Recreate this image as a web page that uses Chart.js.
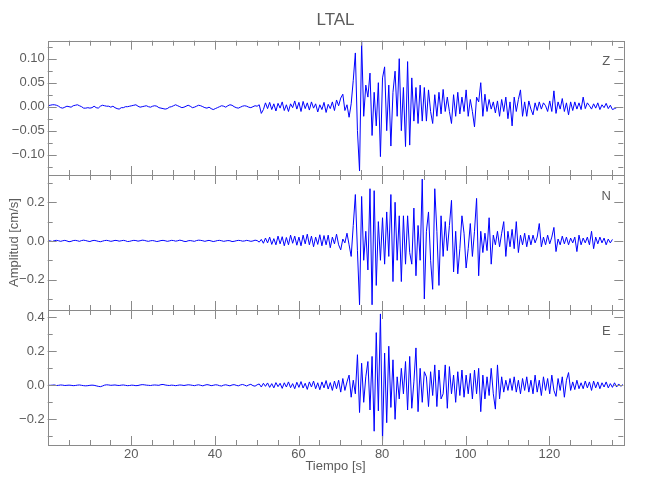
<!DOCTYPE html>
<html>
<head>
<meta charset="utf-8">
<title>LTAL</title>
<script src="https://cdn.jsdelivr.net/npm/chart.js@4.4.1/dist/chart.umd.min.js"></script>
<style>
  body { margin: 0; background: #fff; }
  #wrap { position: relative; width: 650px; height: 500px; }
  #wrap canvas { position: absolute; left: 0; top: 0; }
</style>
</head>
<body>
<div id="wrap">
  <canvas id="chartZ" width="650" height="500"></canvas>
  <canvas id="chartN" width="650" height="500"></canvas>
  <canvas id="chartE" width="650" height="500"></canvas>
</div>
<script>
// sample times: t0 + i*dt (s)
const t0 = 0.1;
const dt = 0.5;

// vertical component, cm/s (2 samples per second)
const zValues = [0.002,
  0.003,0.004,0.004,0.003,0.001,-0.002,-0.003,-0.001,0.001,0.000,
  -0.001,0.002,0.003,0.004,0.002,0.000,-0.003,-0.003,-0.002,-0.003,
  -0.002,0.001,-0.002,-0.003,0.001,0.003,0.002,0.001,0.001,-0.001,
  0.001,-0.002,-0.004,-0.005,-0.002,-0.002,0.000,0.000,0.001,0.002,
  0.003,0.004,0.001,-0.001,0.000,0.001,0.002,0.000,-0.001,0.001,
  0.002,0.001,-0.002,-0.003,-0.004,-0.005,-0.004,-0.001,0.000,0.002,
  0.004,0.002,0.000,-0.002,-0.001,0.001,0.003,0.001,-0.002,-0.001,
  0.001,0.003,0.002,0.000,-0.002,-0.003,-0.001,-0.004,-0.006,-0.004,
  -0.002,0.000,0.002,0.001,-0.001,0.002,0.004,0.003,0.000,-0.002,
  -0.003,-0.001,0.001,0.002,0.001,-0.001,-0.002,0.000,0.002,0.001,
  0.004,-0.014,-0.006,0.008,-0.004,0.009,-0.006,0.006,-0.009,0.007,
  -0.003,0.010,-0.008,0.004,-0.010,0.006,-0.002,0.012,-0.005,0.009,
  -0.010,0.011,-0.004,0.008,-0.007,0.010,-0.003,0.006,-0.011,0.004,
  -0.006,0.009,-0.012,0.005,-0.004,0.010,-0.008,0.014,0.002,0.018,
  0.026,-0.008,0.004,-0.022,0.006,0.055,0.112,-0.050,-0.134,0.135,
  -0.020,0.045,0.020,0.070,-0.060,0.030,-0.040,0.050,-0.104,0.060,
  0.083,-0.050,0.045,-0.082,0.030,0.074,-0.020,0.100,-0.050,0.040,
  -0.083,0.094,-0.080,0.060,-0.030,0.040,-0.035,0.045,-0.030,0.040,
  -0.030,0.035,-0.010,-0.035,0.025,-0.020,0.030,-0.015,0.036,-0.010,
  0.020,-0.010,-0.035,0.025,-0.020,0.030,-0.015,0.020,-0.010,0.035,
  -0.020,0.015,-0.010,-0.042,0.020,0.010,0.050,-0.020,0.026,-0.010,
  0.015,-0.005,0.010,-0.013,0.012,-0.020,0.015,-0.010,0.020,-0.025,
  0.010,-0.040,0.020,-0.010,0.015,0.035,-0.020,0.010,-0.020,0.012,
  -0.005,-0.017,0.008,-0.008,0.010,-0.005,0.008,0.002,-0.010,0.012,
  -0.010,0.033,-0.014,0.010,-0.005,0.017,-0.010,0.008,-0.017,0.010,
  -0.008,0.010,-0.005,0.008,-0.006,0.020,-0.004,0.008,0.002,-0.005,
  0.006,-0.003,0.008,-0.006,0.004,-0.002,0.007,-0.004,0.003,-0.006,
  -0.004,-0.002
];

// north component
const nValues = [0.001,
  0.000,-0.003,0.002,0.003,0.001,-0.002,0.001,0.003,0.000,-0.004,
  -0.002,0.002,0.003,0.001,-0.002,0.002,0.004,0.002,-0.001,-0.003,
  0.001,0.003,0.001,-0.002,-0.004,-0.001,0.002,0.003,0.001,-0.002,
  0.000,0.003,0.002,-0.001,0.001,0.003,0.001,-0.003,-0.002,0.001,
  0.003,0.002,-0.001,0.001,0.004,0.003,0.000,-0.002,0.001,0.002,
  0.000,-0.003,-0.001,0.002,0.003,0.001,-0.002,0.000,0.003,0.002,
  -0.001,0.001,0.004,0.002,-0.002,-0.003,0.001,0.002,0.000,-0.002,
  0.002,0.004,0.003,0.001,-0.002,0.001,0.003,0.000,-0.003,-0.001,
  0.002,0.003,0.001,-0.002,0.000,0.002,0.001,-0.003,-0.002,0.001,
  0.003,0.002,-0.001,0.000,0.003,0.001,-0.002,0.000,0.004,0.002,
  -0.006,0.008,-0.012,0.015,-0.010,0.020,-0.018,0.012,-0.020,0.025,
  -0.015,0.022,-0.025,0.018,-0.020,0.030,-0.012,0.025,-0.022,0.020,
  -0.025,0.030,-0.015,0.035,-0.020,0.025,-0.030,0.020,-0.018,0.032,
  -0.025,0.028,-0.020,0.030,-0.035,0.020,-0.015,0.035,-0.020,-0.046,
  0.010,-0.010,0.040,-0.020,-0.080,0.080,0.240,-0.050,-0.330,0.230,
  -0.100,0.050,-0.150,0.270,-0.330,0.260,-0.230,0.100,-0.100,0.120,
  -0.120,0.150,-0.080,0.240,-0.210,0.200,-0.100,0.130,-0.210,0.130,
  -0.120,0.130,-0.060,-0.120,0.170,-0.180,0.080,-0.100,0.320,-0.300,
  0.050,0.150,-0.100,-0.250,0.270,0.050,-0.230,0.130,-0.080,0.100,
  -0.050,0.080,0.210,-0.160,0.050,-0.170,-0.040,0.130,0.040,-0.140,
  -0.040,0.090,-0.080,0.050,0.220,-0.180,0.050,-0.060,0.040,-0.050,
  0.120,-0.120,0.030,-0.020,0.050,-0.030,0.040,0.100,-0.080,0.050,
  -0.030,0.060,-0.040,0.100,-0.060,0.030,-0.020,0.040,-0.030,0.030,
  -0.020,0.030,-0.010,0.020,0.090,-0.030,0.020,-0.020,0.030,-0.015,
  0.020,0.070,-0.055,0.010,-0.020,0.025,-0.015,0.020,-0.020,0.015,
  -0.010,0.020,-0.055,0.030,-0.020,0.015,-0.010,0.020,-0.020,0.050,
  -0.040,0.020,-0.015,0.020,-0.010,0.015,-0.020,0.010,-0.010,0.008
];

// east component
const eValues = [0.000,
  0.000,0.001,0.002,-0.001,0.000,0.002,0.001,-0.001,0.000,0.001,
  0.000,-0.002,-0.001,0.001,0.002,0.000,-0.002,-0.003,-0.002,0.000,
  0.001,0.000,-0.003,-0.006,-0.008,-0.004,0.001,0.003,0.002,0.000,
  0.001,0.002,0.000,-0.001,0.001,0.002,0.000,-0.002,-0.001,0.001,
  0.000,-0.002,-0.001,0.002,0.004,0.003,0.001,0.000,-0.001,0.001,
  0.002,0.001,0.000,0.004,0.005,0.002,0.000,-0.001,0.001,0.000,
  -0.002,0.000,0.002,0.001,-0.001,0.001,0.003,0.002,0.000,-0.002,
  0.001,0.003,0.000,-0.003,0.001,0.004,0.002,-0.002,0.000,0.003,
  0.002,-0.002,-0.004,0.001,0.003,0.000,-0.003,0.002,0.004,0.000,
  -0.003,0.002,0.005,0.001,-0.004,0.002,0.006,-0.002,-0.005,0.003,
  0.008,-0.010,0.012,-0.006,0.014,-0.012,0.010,-0.015,0.016,-0.008,
  0.012,-0.018,0.015,-0.010,0.020,-0.014,0.010,-0.020,0.018,-0.012,
  0.022,-0.016,0.012,-0.024,0.020,-0.010,0.025,-0.020,0.015,-0.026,
  0.020,-0.015,0.028,-0.022,0.016,-0.030,0.025,-0.020,0.030,-0.040,
  0.040,-0.030,0.020,0.060,-0.070,0.030,-0.050,0.180,-0.160,0.130,
  -0.100,0.050,0.140,-0.145,0.170,-0.270,0.310,-0.150,0.420,-0.330,
  0.190,-0.220,0.230,-0.130,0.150,-0.200,0.050,-0.080,0.100,-0.050,
  0.140,-0.145,0.170,-0.135,0.020,0.220,-0.155,0.100,-0.100,0.080,
  0.050,-0.125,0.080,-0.060,0.120,-0.125,0.090,-0.080,-0.050,0.120,
  -0.135,0.110,-0.050,0.060,-0.100,0.080,-0.060,0.090,-0.070,0.060,
  -0.050,0.070,-0.080,0.090,-0.050,0.100,-0.155,0.060,-0.080,0.050,
  -0.060,0.100,-0.050,-0.140,0.120,-0.080,0.050,-0.040,0.030,-0.030,
  0.040,-0.030,0.050,-0.040,0.030,-0.050,0.040,-0.030,0.050,-0.040,
  0.030,-0.050,0.060,-0.040,0.030,-0.060,0.050,-0.030,0.040,-0.050,
  0.060,-0.030,-0.065,0.040,-0.030,0.050,-0.070,0.030,0.075,-0.030,
  0.020,-0.025,0.030,-0.020,0.015,-0.020,0.025,-0.015,0.020,-0.030,
  0.025,-0.015,0.020,-0.020,0.015,-0.010,0.020,-0.015,0.010,-0.012,
  0.015,-0.010,0.008,-0.006,0.005
];

const xTicks = [20, 40, 60, 80, 100, 120];
const zTicks = [-0.10, -0.05, 0, 0.05, 0.10];
const nTicks = [-0.2, 0, 0.2];
const eTicks = [-0.2, 0, 0.2, 0.4];

const axisColor = '#8a8a8a';
const textColor = '#5c5c5c';
const traceColor = '#0000ff';
const fontFamily = "'Liberation Sans Narrow', 'Liberation Sans', sans-serif";

Chart.defaults.font.family = fontFamily;
Chart.defaults.font.size = 13;
Chart.defaults.color = textColor;

function toPoints(values) {
  return values.map((v, i) => ({ x: t0 + i * dt, y: v }));
}

function fmt(v, d) {
  return v.toFixed(d).replace('-', '\u2212');
}

// box round the panel with inward ticks on all four sides, plus the component letter
const framePlugin = {
  id: 'frame',
  afterDraw(chart, args, opts) {
    const { ctx, chartArea: a } = chart;
    const xs = chart.scales.x, ys = chart.scales.y;
    ctx.save();
    ctx.strokeStyle = axisColor;
    ctx.lineWidth = 1;
    ctx.strokeRect(Math.round(a.left) + 0.5, Math.round(a.top) + 0.5,
      Math.round(a.right - a.left), Math.round(a.bottom - a.top));
    ctx.beginPath();
    for (let k = 1; k * 5 < xs.max; k++) {
      const px = Math.round(xs.getPixelForValue(k * 5)) + 0.5;
      const len = k % 4 === 0 ? 9 : 5;
      ctx.moveTo(px, a.top); ctx.lineTo(px, a.top + len);
      ctx.moveTo(px, a.bottom); ctx.lineTo(px, a.bottom - len);
    }
    const k0 = Math.ceil(ys.min / opts.minor), k1 = Math.floor(ys.max / opts.minor);
    for (let k = k0; k <= k1; k++) {
      const py = Math.round(ys.getPixelForValue(k * opts.minor)) + 0.5;
      const len = k % opts.every === 0 ? 9 : 5;
      ctx.moveTo(a.left, py); ctx.lineTo(a.left + len, py);
      ctx.moveTo(a.right, py); ctx.lineTo(a.right - len, py);
    }
    ctx.stroke();
    ctx.fillStyle = textColor;
    ctx.font = '13px ' + fontFamily;
    ctx.textAlign = 'center';
    ctx.textBaseline = 'middle';
    ctx.fillText(opts.name, a.right - 17, a.top + 21);
    ctx.restore();
  }
};

function makePanel(id, values, name, yMin, yMax, yTicks, decimals, minor, extra) {
  return new Chart(document.getElementById(id), {
    type: 'line',
    data: {
      datasets: [{
        data: toPoints(values),
        borderColor: traceColor,
        borderWidth: 1,
        pointRadius: 0,
        tension: 0,
        fill: false
      }]
    },
    options: {
      responsive: false,
      animation: false,
      devicePixelRatio: 1,
      layout: { padding: extra.padding },
      plugins: {
        legend: { display: false },
        tooltip: { enabled: false },
        title: extra.title || { display: false },
        frame: { minor: minor, every: 2, name: name }
      },
      scales: {
        x: Object.assign({
          type: 'linear',
          min: 0,
          max: 137.7,
          display: false,
          afterBuildTicks: s => { s.ticks = xTicks.map(v => ({ value: v })); }
        }, extra.x || {}),
        y: {
          type: 'linear',
          min: yMin,
          max: yMax,
          grid: { display: false, drawTicks: false },
          border: { display: false },
          afterBuildTicks: s => { s.ticks = yTicks.map(v => ({ value: v })); },
          ticks: { padding: 3, callback: v => fmt(v, decimals) },
          title: extra.yTitle || { display: false },
          afterFit: s => { s.width = 47.7; }
        }
      }
    },
    plugins: [framePlugin]
  });
}

makePanel('chartZ', zValues, 'Z', -0.1423, 0.1375, zTicks, 2, 0.025, {
  padding: { left: 0, right: 26.7, top: 0, bottom: 325 },
  title: {
    display: true, text: 'LTAL', fullSize: false, color: textColor,
    font: { size: 17, weight: 'normal' },
    padding: { top: 9.8, bottom: 10.5 }
  }
});

makePanel('chartN', nValues, 'N', -0.357, 0.341, nTicks, 1, 0.1, {
  padding: { left: 0, right: 26.7, top: 175, bottom: 190 },
  yTitle: {
    display: true, text: 'Amplitud [cm/s]', color: textColor,
    font: { size: 13 }, padding: { top: 7, bottom: 0 }
  }
});

makePanel('chartE', eValues, 'E', -0.351, 0.443, eTicks, 1, 0.1, {
  padding: { left: 0, right: 26.7, top: 310, bottom: 0 },
  x: {
    display: true,
    grid: { display: false, drawTicks: false },
    border: { display: false },
    ticks: { padding: 2, maxRotation: 0, autoSkip: false, callback: v => String(v) },
    title: {
      display: true, text: 'Tiempo [s]', color: textColor,
      font: { size: 13 }, padding: { top: 0, bottom: 26 }
    },
    afterFit: s => { s.height = 55; }
  }
});
</script>
</body>
</html>
